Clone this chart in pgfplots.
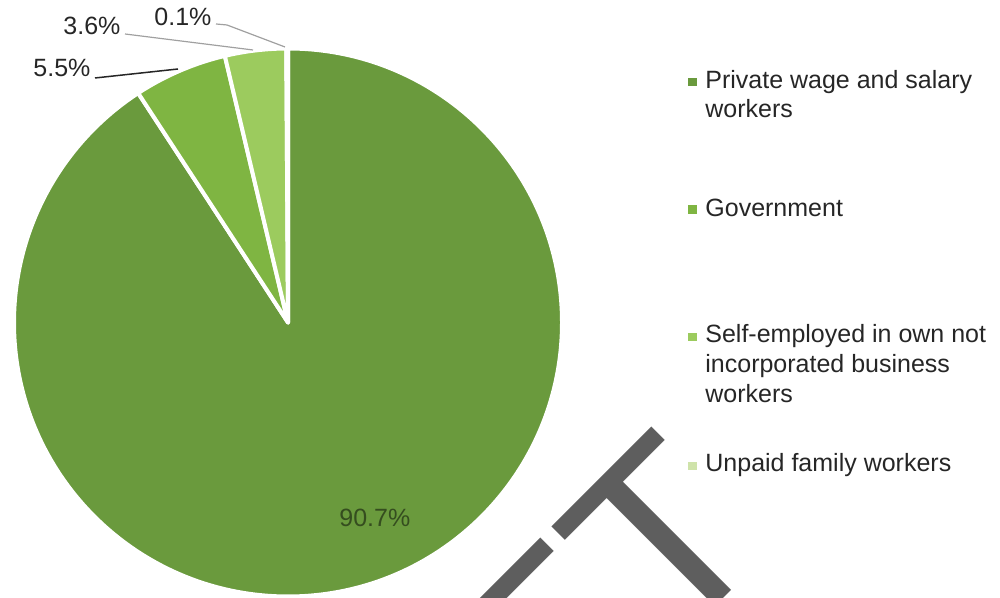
\documentclass[border=0pt]{standalone}
\usepackage{pgfplots}
\pgfplotsset{compat=1.18}
\usepackage{pgfplotstable}
\usepackage{fontspec}
\setmainfont{Liberation Sans}

\definecolor{cPrivate}{HTML}{6A9A3D}
\definecolor{cGov}{HTML}{7FB542}
\definecolor{cSelf}{HTML}{9CCB5E}
\definecolor{cUnpaid}{HTML}{CFE3AA}
\definecolor{txt}{HTML}{262626}
\definecolor{lead}{HTML}{A0A0A0}
\definecolor{wmark}{HTML}{5E5E5E}

% shares in percent, clockwise from 12 o'clock
\pgfplotstableread{
share
90.7
5.5
3.6
0.1
}\piedata

% slice angles (computed here, in the preamble, so no stray spaces end up on the page)
\pgfplotstablegetelem{0}{share}\of\piedata \let\vA\pgfplotsretval
\pgfplotstablegetelem{1}{share}\of\piedata \let\vB\pgfplotsretval
\pgfplotstablegetelem{2}{share}\of\piedata \let\vC\pgfplotsretval
\pgfplotstablegetelem{3}{share}\of\piedata \let\vD\pgfplotsretval
\pgfmathsetmacro\tot{\vA+\vB+\vC+\vD}
\pgfmathsetmacro\aA{90}
\pgfmathsetmacro\aB{\aA-(\vA/\tot)*360}
\pgfmathsetmacro\aC{\aB-(\vB/\tot)*360}
\pgfmathsetmacro\aD{\aC-(\vC/\tot)*360}
\pgfmathsetmacro\aE{\aD-(\vD/\tot)*360}

% colour, start angle, end angle
\newcommand\pieslice[3]{%
  \filldraw[fill=#1, draw=white, line width=2pt, line join=round]
    (axis cs:288,275.5) -- ++(#2:137pt)
    arc[start angle=#2, end angle=#3, radius=137pt] -- cycle;}

\begin{document}
\begin{tikzpicture}[font=\fontsize{12.5}{15}\selectfont]
\begin{axis}[
    scale only axis, width=500pt, height=299pt,
    xmin=0, xmax=1000, ymin=0, ymax=598,
    hide axis, ticks=none, clip=true,
  ]
  % watermark
  \node[overlay, rotate=45, anchor=base east, inner sep=0pt, text=wmark,
        font=\fontsize{125}{125}\selectfont] at (axis cs:778,54) {DRAFT};

  \pieslice{cPrivate}{\aA}{\aB}
  \pieslice{cGov}{\aB}{\aC}
  \pieslice{cSelf}{\aC}{\aD}
  \pieslice{cUnpaid}{\aD}{\aE}

  % data labels
  \node[anchor=base west, inner sep=0pt, text=black!50!cPrivate] at (axis cs:339,71) {90.7\%};
  \node[anchor=base west, inner sep=0pt, text=txt] at (axis cs:33,521) {5.5\%};
  \node[anchor=base west, inner sep=0pt, text=txt] at (axis cs:63,563) {3.6\%};
  \node[anchor=base west, inner sep=0pt, text=txt] at (axis cs:154,572) {0.1\%};
  \draw[txt, line width=0.75pt] (axis cs:95,520) -- (axis cs:178,529);
  \draw[lead, line width=0.6pt] (axis cs:125,564) -- (axis cs:253,548);
  \draw[lead, line width=0.6pt] (axis cs:216,574) -- (axis cs:227,573) -- (axis cs:285,551);

  % legend
  \fill[cPrivate] (axis cs:688,512) rectangle (axis cs:697,520);
  \fill[cGov]     (axis cs:688,384) rectangle (axis cs:697,393);
  \fill[cSelf]    (axis cs:688,257) rectangle (axis cs:697,265);
  \fill[cUnpaid]  (axis cs:688,128) rectangle (axis cs:697,136);
  \node[anchor=base west, inner sep=0pt, text=txt] at (axis cs:705,509) {Private wage and salary};
  \node[anchor=base west, inner sep=0pt, text=txt] at (axis cs:705,480) {workers};
  \node[anchor=base west, inner sep=0pt, text=txt] at (axis cs:705,381) {Government};
  \node[anchor=base west, inner sep=0pt, text=txt] at (axis cs:705,255) {Self-employed in own not};
  \node[anchor=base west, inner sep=0pt, text=txt] at (axis cs:705,225) {incorporated business};
  \node[anchor=base west, inner sep=0pt, text=txt] at (axis cs:705,195) {workers};
  \node[anchor=base west, inner sep=0pt, text=txt] at (axis cs:705,126) {Unpaid family workers};
\end{axis}
\pgfresetboundingbox
\path[use as bounding box] (current axis.south west) rectangle (current axis.north east);
\end{tikzpicture}
\end{document}
